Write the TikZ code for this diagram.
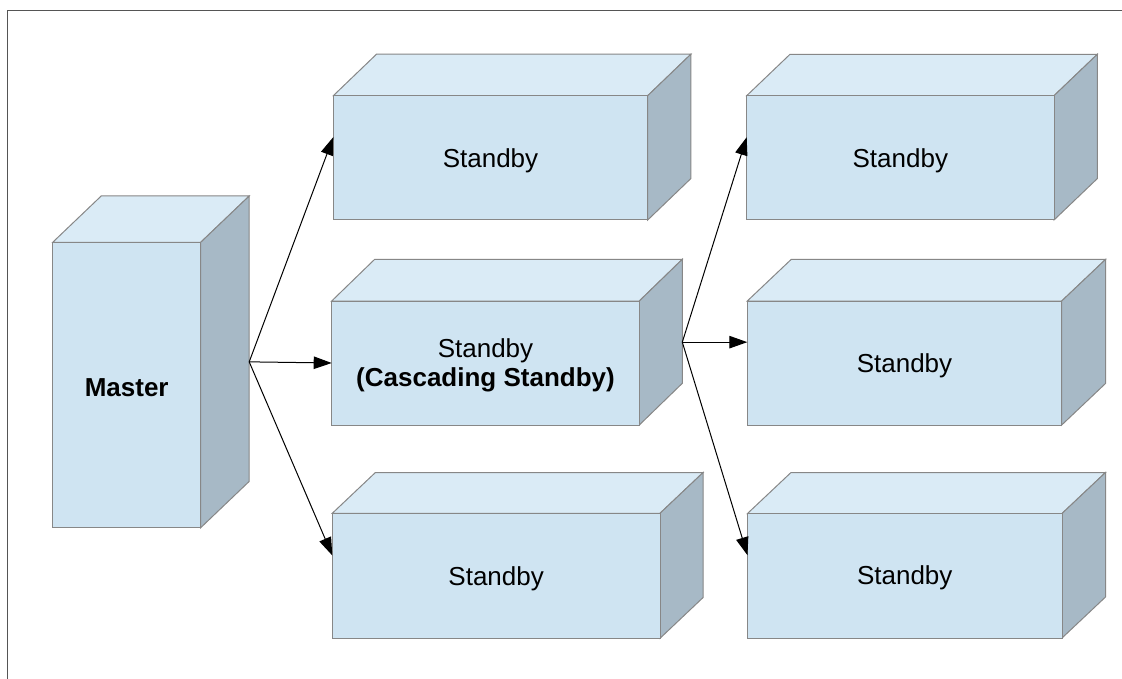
\documentclass[tikz,border=0pt]{standalone}
\usepackage{fontspec}
\setmainfont{Liberation Sans}
\usetikzlibrary{arrows.meta}
\definecolor{frontc}{HTML}{CFE4F2}
\definecolor{topc}{HTML}{DAEBF6}
\definecolor{sidec}{HTML}{A7B9C6}
\definecolor{edgec}{HTML}{878787}
\definecolor{framec}{HTML}{555555}
\tikzset{
  cubeedge/.style={draw=edgec, line width=1pt, line join=miter},
  frontface/.style={draw=edgec, fill=frontc, line width=1pt, inner sep=0pt, outer sep=0pt},
  cubetext/.style={align=center, font=\fontsize{26}{29.5}\selectfont, text=black, inner sep=0pt, yshift=-2.5pt},
  bbox/.style={inner sep=0pt, outer sep=0pt},
  arr/.style={draw=black, line width=1pt, -{Triangle[length=18pt,width=12.5pt]}},
}
\newcommand\cubebox[8]{%
  \pgfmathsetmacro\cubeW{#4-#2}%
  \pgfmathsetmacro\cubeH{#5-#3}%
  \pgfmathsetmacro\cubeBW{#4-#2+#6}%
  \pgfmathsetmacro\cubeBH{#5-#3+#7}%
  \node[bbox, minimum width=\cubeBW pt, minimum height=\cubeBH pt, anchor=south west] (#1) at (#2,#5) {};
  \path[cubeedge, fill=topc] (#2,#3) -- ++(#6,-#7) -- ++(\cubeW,0) -- ++(-#6,#7) -- cycle;
  \path[cubeedge, fill=sidec] (#4,#3) -- ++(#6,-#7) -- ++(0,\cubeH) -- ++(-#6,#7) -- cycle;
  \node[frontface, minimum width=\cubeW pt, minimum height=\cubeH pt, anchor=north west] (#1f) at (#2,#3) {};
  \node[cubetext] (#1t) at (#1f.center) {#8};
}
\begin{document}
\begin{tikzpicture}[x=1pt, y=-1pt]
  \useasboundingbox (0,0) rectangle (1122,679);
  \fill[white] (0,0) rectangle (1122,679);
  \draw[framec, line width=1.3pt] (7.5,679) -- (7.5,10.5) -- (1122,10.5);
  \cubebox{m}{52.7}{242.3}{200.7}{527.7}{48.5}{46.3}{\textbf{Master}}
  \cubebox{a}{333.3}{95.7}{647.7}{220}{43.2}{41.5}{Standby}
  \cubebox{b}{331.7}{301}{639.3}{425}{43}{41.7}{Standby\\\textbf{(Cascading Standby)}}
  \cubebox{c}{332.3}{513.3}{660}{638.3}{43}{40.7}{Standby}
  \cubebox{d}{746.7}{95.7}{1054}{220}{43.3}{41.4}{Standby}
  \cubebox{e}{747.3}{301}{1061.7}{425}{44}{41.7}{Standby}
  \cubebox{f}{747.5}{513.5}{1062}{638}{43.5}{41}{Standby}
  \draw[arr] (m.east) -- (a.west);
  \draw[arr] (m.east) -- (bf.west);
  \draw[arr] (m.east) -- (c.west);
  \draw[arr] (b.east) -- (d.west);
  \draw[arr] (b.east) -- (e.west);
  \draw[arr] (b.east) -- (f.west);
\end{tikzpicture}
\end{document}
